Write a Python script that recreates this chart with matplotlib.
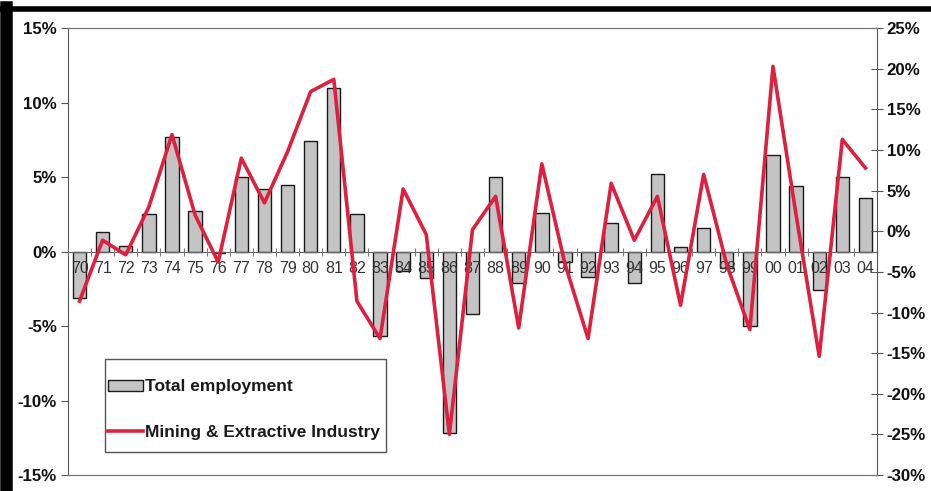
import matplotlib
matplotlib.use("Agg")
import matplotlib.pyplot as plt
from matplotlib.lines import Line2D
from matplotlib.patches import Rectangle
from matplotlib.ticker import FuncFormatter

plt.rcParams['font.family'] = ['Liberation Sans', 'DejaVu Sans']

years = ['70', '71', '72', '73', '74', '75', '76', '77', '78', '79',
         '80', '81', '82', '83', '84', '85', '86', '87', '88', '89',
         '90', '91', '92', '93', '94', '95', '96', '97', '98', '99',
         '00', '01', '02', '03', '04']

# annual change, %
total_employment = [-3.1, 1.3, 0.4, 2.5, 7.7, 2.7, -0.1, 5.0, 4.2, 4.5,
                    7.4, 11.0, 2.5, -5.7, -1.3, -1.8, -12.2, -4.2, 5.0, -2.1,
                    2.6, -0.7, -1.7, 1.9, -2.1, 5.2, 0.3, 1.6, -1.1, -5.0,
                    6.5, 4.4, -2.6, 5.0, 3.6]
mining = [-8.6, -1.1, -2.9, 3.0, 11.9, 2.0, -3.8, 9.0, 3.5, 9.8,
          17.2, 18.7, -8.6, -13.2, 5.2, -0.4, -25.0, 0.2, 4.3, -11.9,
          8.3, -4.0, -13.2, 5.9, -1.1, 4.3, -9.1, 7.0, -4.1, -12.1,
          20.3, 2.0, -15.4, 11.3, 7.8]

x = list(range(len(years)))
pct = FuncFormatter(lambda v, p: f"{v:.0f}%")

fig = plt.figure(figsize=(9.31, 4.91), dpi=100)
ax = fig.add_axes([0.073, 0.0326, 0.869, 0.910])
ax2 = ax.twinx()

bars = ax.bar(x, total_employment, width=0.58, color='#c4c4c4',
              edgecolor='#1a1a1a', linewidth=1.0, zorder=2,
              label='Total employment')
ln, = ax2.plot(x, mining, color='#de1f3d', linewidth=2.6,
               label='Mining & Extractive Industry', zorder=3)

ax.set_xlim(-0.5, len(years) - 0.5)
ax.set_ylim(-15, 15)
ax2.set_ylim(-30, 25)
ax.set_yticks([-15, -10, -5, 0, 5, 10, 15])
ax2.set_yticks(range(-30, 26, 5))
ax.yaxis.set_major_formatter(pct)
ax2.yaxis.set_major_formatter(pct)

for lab in ax.get_yticklabels() + ax2.get_yticklabels():
    lab.set_fontweight('bold')
    lab.set_fontsize(12.2)
    lab.set_color('#111111')
ax.tick_params(axis='y', direction='out', length=5, width=0.8, color='#555555', pad=3)
ax2.tick_params(axis='y', direction='inout', length=8, width=0.8, color='#555555', pad=3)

# category axis drawn through zero, labels on top of the bars
ax.set_axisbelow(False)
ax.spines['bottom'].set_position(('data', 0))
ax.spines['bottom'].set_color('#666666')
ax.spines['top'].set_visible(False)
ax.spines['right'].set_visible(False)
ax.spines['left'].set_color('#555555')
ax.set_xticks(x)
ax.set_xticklabels(years, fontsize=11.5, color='#333333')
ax.set_xticks([i - 0.5 for i in range(len(years) + 1)], minor=True)
ax.tick_params(axis='x', which='major', length=0, pad=7)
ax.tick_params(axis='x', which='minor', direction='inout', length=6,
               width=0.8, color='#777777')

for s in ['top', 'bottom']:
    ax2.spines[s].set_color('#777777')
    ax2.spines[s].set_linewidth(0.9)
ax2.spines['left'].set_visible(False)
ax2.spines['right'].set_color('#555555')

# legend: frame drawn separately so the padding can be tight at the sides
leg_box = (0.046, 0.051, 0.347, 0.209)
leg = ax2.legend([bars, ln], ['Total employment', 'Mining & Extractive Industry'],
                 loc='center left', bbox_to_anchor=(0.046, 0.042, 0.347, 0.209),
                 frameon=False, prop={'weight': 'bold', 'size': 12.5},
                 labelspacing=1.75, handlelength=2.0, handleheight=0.6,
                 handletextpad=0.15, borderpad=0.15, borderaxespad=0)
for t in leg.get_texts():
    t.set_color('#1a1a1a')
ax2.add_patch(Rectangle(leg_box[:2], leg_box[2], leg_box[3], transform=ax2.transAxes,
                        fill=True, facecolor='white', edgecolor='#555555',
                        linewidth=1.0, zorder=4))
leg.set_zorder(5)

# scanned page border
fig.add_artist(Line2D([0, 1], [0.982, 0.982], color='black', linewidth=4,
                      transform=fig.transFigure))
fig.add_artist(Line2D([0.006, 0.006], [0, 0.985], color='black', linewidth=9,
                      transform=fig.transFigure))

fig.savefig('out.png', dpi=100)
